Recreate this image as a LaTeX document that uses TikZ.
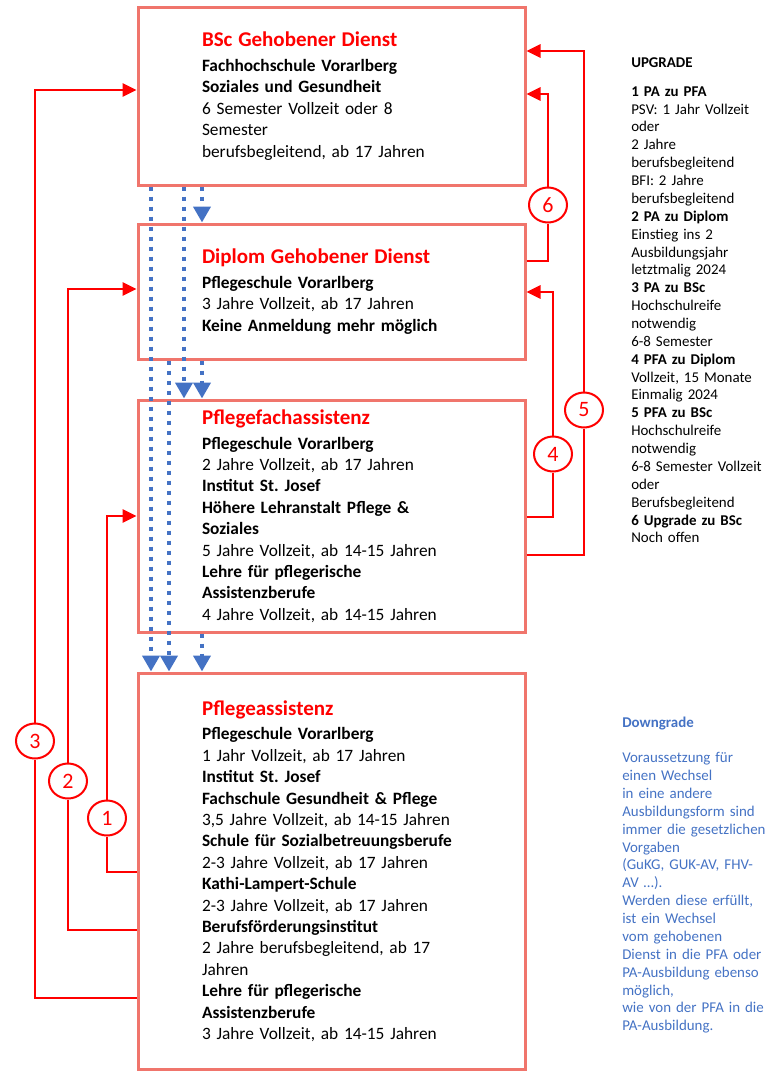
\documentclass[tikz,border=0pt]{standalone}
\usepackage{fontspec}
\setmainfont{Carlito}
\usepackage{xcolor}
\usetikzlibrary{arrows.meta,positioning,shapes.geometric}
\definecolor{boxline}{RGB}{240,117,108}
\definecolor{linkred}{RGB}{255,0,0}
\definecolor{downblue}{RGB}{68,114,196}
\newcommand{\ttl}[1]{{\color{linkred}\fontsize{15.75pt}{16pt}\selectfont\bfseries #1}}
\frenchspacing

\begin{document}
\begin{tikzpicture}[x=0.75pt, y=-0.75pt,
  box/.style={draw=boxline, line width=2.25pt, text width=290.25pt, inner xsep=0pt,
              align=left, font=\fontsize{13pt}{16.05pt}\selectfont,
              execute at begin node={\leftskip=48pt}},
  note/.style={text width=125pt, inner xsep=0pt, align=left, anchor=base west,
               font=\fontsize{11.2pt}{13.4pt}\selectfont},
  num/.style={ellipse, draw=linkred, line width=1.5pt, minimum width=28.5pt,
              minimum height=26.25pt, inner sep=0pt, text=linkred,
              font=\fontsize{16.5pt}{16.5pt}\selectfont},
  link/.style={draw=linkred, line width=0.9pt},
  uplink/.style={draw=linkred, line width=1.6pt, -{Triangle[length=10.5pt, width=10pt]}},
  down/.style={draw=downblue, line width=3pt, dash pattern=on 3pt off 4.5pt,
               -{Triangle[length=12pt, width=12.75pt, sep=0pt]}}
]
\useasboundingbox (0,0) rectangle (766,1071);

\node[box, minimum height=133.5pt, anchor=north west] (bsc) at (136.5,5.5)
  {\ttl{BSc Gehobener Dienst}\\[2.5pt]
   \textbf{Fachhochschule Vorarlberg}\\
   \textbf{Soziales und Gesundheit}\\
   6 Semester Vollzeit oder 8\\
   Semester\\
   berufsbegleitend, ab 17 Jahren};
\node[box, minimum height=101.25pt, below=27pt of bsc] (dip)
  {\ttl{Diplom Gehobener Dienst}\\[2.5pt]
   \textbf{Pflegeschule Vorarlberg}\\
   3 Jahre Vollzeit, ab 17 Jahren\\
   \textbf{Keine Anmeldung mehr möglich}};
\node[box, minimum height=174pt, below=28.5pt of dip] (pfa)
  {\ttl{Pflegefachassistenz}\\[2.5pt]
   \textbf{Pflegeschule Vorarlberg}\\
   2 Jahre Vollzeit, ab 17 Jahren\\
   \textbf{Institut St. Josef}\\
   \textbf{Höhere Lehranstalt Pflege \&}\\
   \textbf{Soziales}\\
   5 Jahre Vollzeit, ab 14-15 Jahren\\
   \textbf{Lehre für pflegerische}\\
   \textbf{Assistenzberufe}\\
   4 Jahre Vollzeit, ab 14-15 Jahren};
\node[box, minimum height=297pt, below=28.5pt of pfa] (pa)
  {\ttl{Pflegeassistenz}\\[2.5pt]
   \textbf{Pflegeschule Vorarlberg}\\
   1 Jahr Vollzeit, ab 17 Jahren\\
   \textbf{Institut St. Josef}\\
   \textbf{Fachschule Gesundheit \& Pflege}\\
   3,5 Jahre Vollzeit, ab 14-15 Jahren\\
   \textbf{Schule für Sozialbetreuungsberufe}\\
   2-3 Jahre Vollzeit, ab 17 Jahren\\
   \textbf{Kathi-Lampert-Schule}\\
   2-3 Jahre Vollzeit, ab 17 Jahren\\
   \textbf{Berufsförderungsinstitut}\\
   2 Jahre berufsbegleitend, ab 17\\
   Jahren\\
   \textbf{Lehre für pflegerische}\\
   \textbf{Assistenzberufe}\\
   3 Jahre Vollzeit, ab 14-15 Jahren};

\node[note] (upgrade) at (631,67)
  {\textbf{UPGRADE}\\[8.5pt]
   \textbf{1 PA zu PFA}\\
   PSV: 1 Jahr Vollzeit\\
   oder\\
   2 Jahre\\
   berufsbegleitend\\
   BFI: 2 Jahre\\
   berufsbegleitend\\
   \textbf{2 PA zu Diplom}\\
   Einstieg ins 2\\
   Ausbildungsjahr\\
   letztmalig 2024\\
   \textbf{3 PA zu BSc}\\
   Hochschulreife\\
   notwendig\\
   6-8 Semester\\
   \textbf{4 PFA zu Diplom}\\
   Vollzeit, 15 Monate\\
   Einmalig 2024\\
   \textbf{5 PFA zu BSc}\\
   Hochschulreife\\
   notwendig\\
   6-8 Semester Vollzeit\\
   oder\\
   Berufsbegleitend\\
   \textbf{6 Upgrade zu BSc}\\
   Noch offen};
\node[note, text=downblue] (downgrade) at (622,727)
  {\textbf{Downgrade}\\[13.4pt]
   Voraussetzung für\\
   einen Wechsel\\
   in eine andere\\
   Ausbildungsform sind\\
   immer die gesetzlichen\\
   Vorgaben\\
   (GuKG, GUK-AV, FHV-\\
   AV …).\\
   Werden diese erfüllt,\\
   ist ein Wechsel\\
   vom gehobenen\\
   Dienst in die PFA oder\\
   PA-Ausbildung ebenso\\
   möglich,\\
   wie von der PFA in die\\
   PA-Ausbildung.};

\draw[down] (bsc.south -| 151,0) -- (pa.north -| 151,0);
\draw[down] (bsc.south -| 184,0) -- (pfa.north -| 184,0);
\draw[down] (bsc.south -| 202,0) -- (dip.north -| 202,0);
\draw[down] (dip.south -| 169,0) -- (pa.north -| 169,0);
\draw[down] (dip.south -| 202,0) -- (pfa.north -| 202,0);
\draw[down] (pfa.south -| 202,0) -- (pa.north -| 202,0);

\node[num] (n1) at (107,818) {1};
\node[num] (n2) at (68,781) {2};
\node[num] (n3) at (35,741) {3};
\node[num] (n4) at (553,454) {4};
\node[num] (n5) at (584,410) {5};
\node[num] (n6) at (548,205) {6};

\draw[link] (pa.west |- 0,872) -| (n1);
\draw[uplink] (n1) |- (pfa.west |- 0,516);
\draw[link] (pa.west |- 0,930) -| (n2);
\draw[uplink] (n2) |- (dip.west |- 0,289);
\draw[link] (pa.west |- 0,998) -| (n3);
\draw[uplink] (n3) |- (bsc.west |- 0,90);
\draw[link] (pfa.east |- 0,517) -| (n4);
\draw[uplink] (n4) |- (dip.east |- 0,292);
\draw[link] (pfa.east |- 0,555) -| (n5);
\draw[uplink] (n5) |- (bsc.east |- 0,51);
\draw[link] (dip.east |- 0,261) -| (n6);
\draw[uplink] (n6) |- (bsc.east |- 0,94);
\end{tikzpicture}
\end{document}
